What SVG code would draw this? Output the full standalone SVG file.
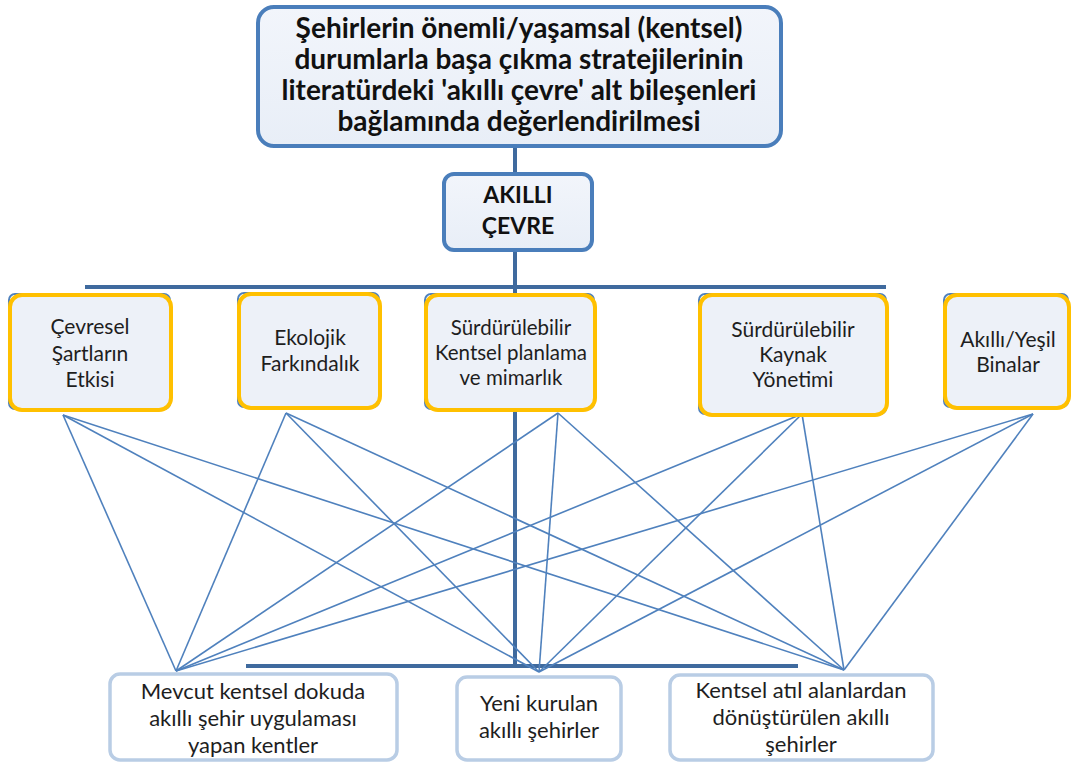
<svg xmlns="http://www.w3.org/2000/svg" width="1073" height="763" viewBox="0 0 1073 763">
  <defs>
    <linearGradient id="boxfill" x1="0" y1="0" x2="0" y2="1">
      <stop offset="0" stop-color="#F2F5FB"/>
      <stop offset="1" stop-color="#E8EEF7"/>
    </linearGradient>
    <style>
      .main { fill: url(#boxfill); stroke: #4A7EBB; stroke-width: 4; }
      .sub { fill: #EDF1F8; stroke: #FFC000; stroke-width: 4; }
      .subback { fill: none; stroke: #4F81BD; stroke-width: 2; }
      .out { fill: #FFFFFF; stroke: #B9CDE5; stroke-width: 3.5; }
      .trunk { stroke: #3F6A9E; stroke-width: 4; fill: none; stroke-linecap: butt; }
      .link { stroke: #4F81BD; stroke-width: 1.6; fill: none; }
      .tb { font-family: Lato, "Liberation Sans", sans-serif; font-weight: bold; fill: #111111; text-anchor: middle; }
      .t { font-family: Lato, "Liberation Sans", sans-serif; fill: #1E1E1E; text-anchor: middle; }
    </style>
  </defs>
  <rect width="1073" height="763" fill="#FFFFFF"/>

  <g id="connectors">
    <line class="trunk" x1="515" y1="146" x2="515" y2="175"/>
    <line class="trunk" x1="515" y1="250" x2="515" y2="668"/>
    <line class="trunk" x1="85" y1="287" x2="886" y2="287"/>
    <line class="trunk" x1="246" y1="666" x2="798" y2="666"/>
    <line class="link" x1="63" y1="415" x2="176" y2="671"/>
    <line class="link" x1="63" y1="415" x2="539" y2="672"/>
    <line class="link" x1="63" y1="415" x2="844" y2="670"/>
    <line class="link" x1="286" y1="413" x2="176" y2="671"/>
    <line class="link" x1="286" y1="413" x2="539" y2="672"/>
    <line class="link" x1="286" y1="413" x2="844" y2="670"/>
    <line class="link" x1="558" y1="413" x2="176" y2="671"/>
    <line class="link" x1="558" y1="413" x2="539" y2="672"/>
    <line class="link" x1="558" y1="413" x2="844" y2="670"/>
    <line class="link" x1="802" y1="414" x2="176" y2="671"/>
    <line class="link" x1="802" y1="414" x2="539" y2="672"/>
    <line class="link" x1="802" y1="414" x2="844" y2="670"/>
    <line class="link" x1="1033" y1="414" x2="176" y2="671"/>
    <line class="link" x1="1033" y1="414" x2="539" y2="672"/>
    <line class="link" x1="1033" y1="414" x2="844" y2="670"/>
  </g>

  <g id="root">
    <rect class="main" x="258" y="7" width="523" height="139" rx="16"/>
    <text class="tb" font-size="28" x="519" y="38">Şehirlerin önemli/yaşamsal (kentsel)</text>
    <text class="tb" font-size="28" x="519" y="69">durumlarla başa çıkma stratejilerinin</text>
    <text class="tb" font-size="28" x="519" y="100">literatürdeki 'akıllı çevre' alt bileşenleri</text>
    <text class="tb" font-size="28" x="519" y="131">bağlamında değerlendirilmesi</text>
  </g>

  <g id="akilli-cevre">
    <rect class="main" x="444" y="174" width="148" height="76" rx="10"/>
    <text class="tb" font-size="23" x="518" y="203">AKILLI</text>
    <text class="tb" font-size="23" x="518" y="234">ÇEVRE</text>
  </g>

  <g id="cevresel">
    <rect class="subback" x="9" y="294" width="161" height="115" rx="6"/>
    <rect class="sub" x="10" y="295" width="161" height="115" rx="12"/>
    <text class="t" font-size="21" x="90" y="334">Çevresel</text>
    <text class="t" font-size="21" x="90" y="361">Şartların</text>
    <text class="t" font-size="21" x="90" y="387">Etkisi</text>
  </g>

  <g id="ekolojik">
    <rect class="subback" x="238" y="293" width="141" height="114" rx="6"/>
    <rect class="sub" x="239" y="294" width="141" height="114" rx="12"/>
    <text class="t" font-size="21" x="310" y="345">Ekolojik</text>
    <text class="t" font-size="21" x="310" y="371">Farkındalık</text>
  </g>

  <g id="kentsel-planlama">
    <rect class="subback" x="425" y="294" width="169" height="115" rx="6"/>
    <rect class="sub" x="426" y="295" width="169" height="115" rx="12"/>
    <text class="t" font-size="20.5" x="511" y="335">Sürdürülebilir</text>
    <text class="t" font-size="20.5" x="511" y="360">Kentsel planlama</text>
    <text class="t" font-size="20.5" x="511" y="385">ve mimarlık</text>
  </g>

  <g id="kaynak-yonetimi">
    <rect class="subback" x="699" y="294" width="187" height="120" rx="6"/>
    <rect class="sub" x="700" y="295" width="187" height="120" rx="12"/>
    <text class="t" font-size="21" x="793" y="337">Sürdürülebilir</text>
    <text class="t" font-size="21" x="793" y="362">Kaynak</text>
    <text class="t" font-size="21" x="793" y="387">Yönetimi</text>
  </g>

  <g id="yesil-binalar">
    <rect class="subback" x="944" y="294" width="124" height="113" rx="6"/>
    <rect class="sub" x="945" y="295" width="124" height="113" rx="12"/>
    <text class="t" font-size="21" x="1008" y="347">Akıllı/Yeşil</text>
    <text class="t" font-size="21" x="1008" y="372">Binalar</text>
  </g>

  <g id="mevcut">
    <rect class="out" x="110" y="674" width="287" height="86" rx="10"/>
    <text class="t" font-size="22" x="253" y="699">Mevcut kentsel dokuda</text>
    <text class="t" font-size="22" x="253" y="726">akıllı şehir uygulaması</text>
    <text class="t" font-size="22" x="253" y="753">yapan kentler</text>
  </g>

  <g id="yeni">
    <rect class="out" x="457" y="677" width="164" height="83" rx="10"/>
    <text class="t" font-size="22" x="539" y="711">Yeni kurulan</text>
    <text class="t" font-size="22" x="539" y="738">akıllı şehirler</text>
  </g>

  <g id="donusturulen">
    <rect class="out" x="670" y="675" width="263" height="85" rx="10"/>
    <text class="t" font-size="22" x="801" y="698">Kentsel atıl alanlardan</text>
    <text class="t" font-size="22" x="801" y="725">dönüştürülen akıllı</text>
    <text class="t" font-size="22" x="801" y="752">şehirler</text>
  </g>
</svg>
